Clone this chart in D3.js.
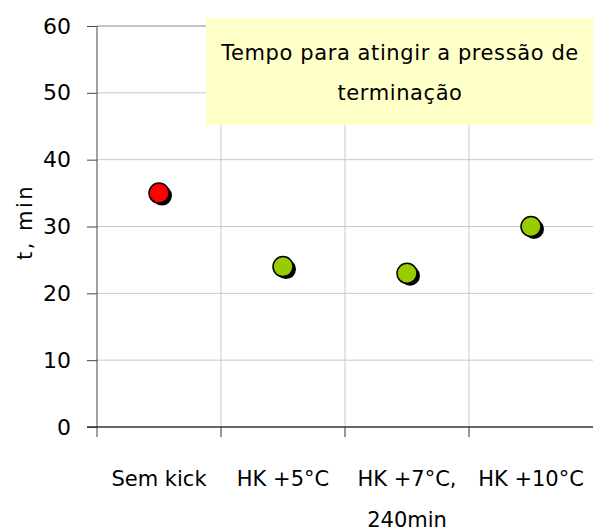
<!DOCTYPE html>
<html><head><meta charset="utf-8">
<script src="https://cdn.jsdelivr.net/npm/d3@7"></script>
<style>body{margin:0;background:#fff}svg{display:block}text{font-family:"DejaVu Sans",sans-serif;fill:#000}</style>
</head><body>
<svg id="c" width="593" height="531"></svg>
<script>
const categories = [["Sem kick"], ["HK +5°C"], ["HK +7°C,", "240min"], ["HK +10°C"]];
const values = [35, 24, 23, 30];
const colors = ["#ff0000", "#99cc00", "#99cc00", "#99cc00"];
const yTicks = [0, 10, 20, 30, 40, 50, 60];
const titleLines = ["Tempo para atingir a pressão de", "terminação"];
const yLabel = "t, min";

const svg = d3.select("#c");
const L = 97, R = 593, T = 26, B = 427;
const x = d3.scaleBand().domain(d3.range(categories.length)).range([L, R]);
const y = d3.scaleLinear().domain([0, 60]).range([B, T]);

// horizontal gridlines
svg.append("g").selectAll("line").data(yTicks.filter(d => d > 0)).join("line")
  .attr("x1", L).attr("x2", R).attr("y1", d => y(d)).attr("y2", d => y(d))
  .attr("stroke", d => d === 60 ? "#888" : "#c8c8c8").attr("stroke-width", 1);
// vertical gridlines
svg.append("g").selectAll("line").data(d3.range(1, categories.length)).join("line")
  .attr("x1", d => x(d)).attr("x2", d => x(d)).attr("y1", T).attr("y2", B)
  .attr("stroke", "#c8c8c8");

// y axis
const ya = d3.axisLeft(y).tickValues(yTicks).tickSize(10).tickPadding(16);
const gy = svg.append("g").attr("transform", `translate(${L},0)`).call(ya);
gy.select(".domain").attr("stroke", "#444").attr("d", `M0,${T}V${B+10}`);
gy.selectAll(".tick line").attr("stroke", "#444");
gy.selectAll("text").style("font-size", "22px").style("font-family", "DejaVu Sans").attr("fill", "#000");

// x axis
svg.append("line").attr("x1", L - 10).attr("x2", R).attr("y1", B).attr("y2", B).attr("stroke", "#333").attr("stroke-width", 1.3);
svg.append("g").selectAll("line").data(d3.range(1, categories.length)).join("line")
  .attr("x1", d => x(d)).attr("x2", d => x(d)).attr("y1", B).attr("y2", B + 10).attr("stroke", "#333");
const xl = svg.append("g").selectAll("text").data(categories).join("text")
  .attr("text-anchor", "middle").style("font-size", "21px")
  .attr("transform", (d, i) => `translate(${x(i) + x.bandwidth() / 2},486)`);
xl.selectAll("tspan").data(d => d).join("tspan").attr("x", 0).attr("dy", (d, i) => i ? 41 : 0).text(d => d);

// y label
svg.append("text").attr("transform", `translate(32,222) rotate(-90)`).attr("text-anchor", "middle")
  .style("font-size", "21px").style("letter-spacing", "2.5px").text(yLabel);

// title box
svg.append("rect").attr("x", 206).attr("y", 18).attr("width", 387).attr("height", 107).attr("fill", "#ffffc8");
svg.append("g").selectAll("text").data(titleLines).join("text").attr("x", 400).attr("y", (d, i) => 60 + i * 40)
  .attr("text-anchor", "middle").style("font-size", "21px").style("letter-spacing", "0.6px").text(d => d);

// points with shadow
const cx = i => x(i) + x.bandwidth() / 2;
svg.append("g").selectAll("circle").data(values).join("circle")
  .attr("cx", (d, i) => cx(i) + 3).attr("cy", d => y(d) + 2.5).attr("r", 10).attr("fill", "#000");
svg.append("g").selectAll("circle").data(values).join("circle")
  .attr("cx", (d, i) => cx(i)).attr("cy", d => y(d)).attr("r", 10)
  .attr("fill", (d, i) => colors[i]).attr("stroke", "#000").attr("stroke-width", 1.5);
</script>
</body></html>
